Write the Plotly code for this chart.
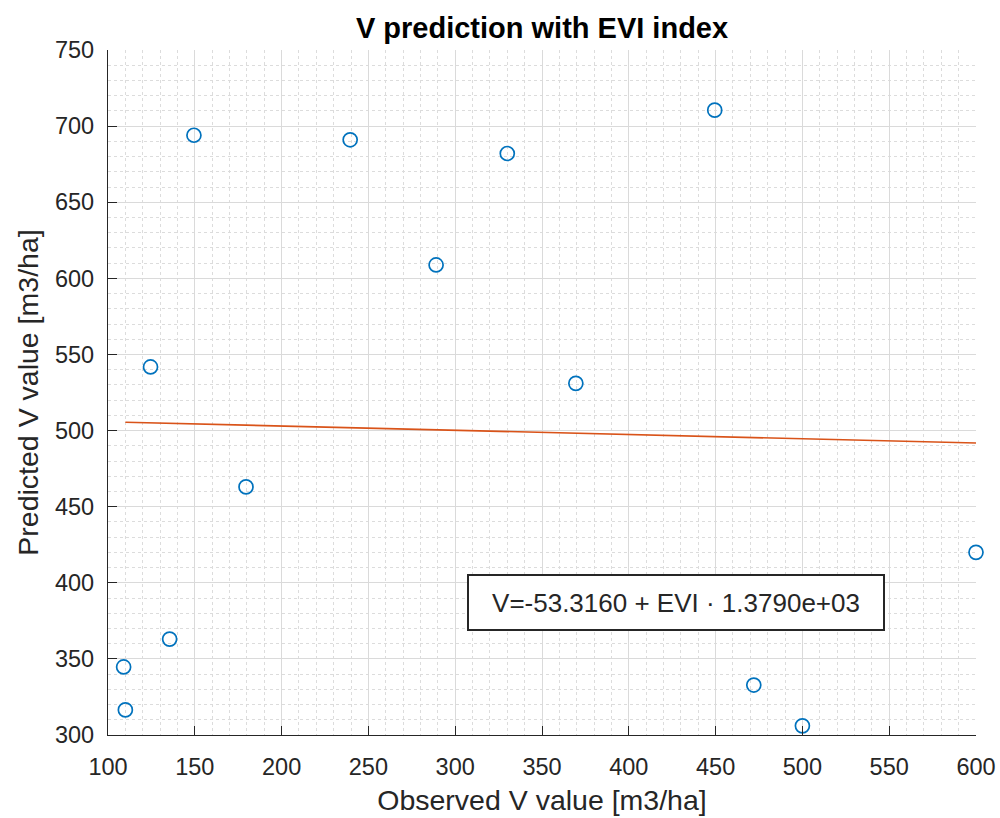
import plotly.graph_objects as go

observed = [109, 110, 135.5, 124.5, 149.5, 179.5, 239.5, 289, 330, 369.5, 449.5, 472, 500, 600]
predicted = [344.7, 316.5, 363, 541.8, 694, 463, 691, 608.8, 682, 531, 710.5, 332.8, 306, 420]
fit_x = [110, 600]
fit_y = [505.5, 491.8]
title = "V prediction with EVI index"
xlabel = "Observed V value [m3/ha]"
ylabel = "Predicted V value [m3/ha]"
eq_text = "V=-53.3160 + EVI \u00b7 1.3790e+03"
xticks = [100, 150, 200, 250, 300, 350, 400, 450, 500, 550, 600]
yticks = [300, 350, 400, 450, 500, 550, 600, 650, 700, 750]

axcol = "#262626"
fnt = "Liberation Sans, Arial, Helvetica, sans-serif"

fig = go.Figure()
fig.add_trace(go.Scatter(x=observed, y=predicted, mode="markers",
                         marker=dict(symbol="circle-open", size=14, color="#0072BD",
                                     line=dict(width=1.7, color="#0072BD")),
                         showlegend=False, cliponaxis=False))
fig.add_trace(go.Scatter(x=fit_x, y=fit_y, mode="lines",
                         line=dict(color="#D95319", width=1.6), showlegend=False))

common = dict(showline=True, linecolor=axcol, linewidth=1.2, mirror=False,
              ticks="inside", ticklen=9, tickcolor=axcol, tickwidth=1.2,
              showgrid=True, gridcolor="#DADADA", gridwidth=1, zeroline=False,
              automargin=False,
              tickfont=dict(family=fnt, size=23.5, color=axcol),
              minor=dict(dtick=10, showgrid=True, gridcolor="#DCDCDC", griddash="dot",
                         gridwidth=1, ticks=""))

fig.update_xaxes(range=[100, 600], tickvals=xticks, **common, ticklabelstandoff=11,
                 title=dict(text=xlabel, font=dict(family=fnt, size=28.5, color=axcol), standoff=10))
fig.update_yaxes(range=[300, 750], tickvals=yticks, **common, ticklabelstandoff=8,
                 title=dict(text=ylabel, font=dict(family=fnt, size=28.5, color=axcol), standoff=8))

fig.add_annotation(x=0.654, y=0.193, xref="paper", yref="paper", text=eq_text,
                   showarrow=False, font=dict(family=fnt, size=26, color=axcol),
                   bordercolor=axcol, borderwidth=2, borderpad=4, bgcolor="white",
                   xanchor="center", yanchor="middle", width=406, height=45)

fig.update_layout(width=1000, height=818, plot_bgcolor="white", paper_bgcolor="white",
                  margin=dict(l=108, r=24, t=50, b=83),
                  title=dict(text="<b>" + title + "</b>", x=0.542, xanchor="center",
                             y=0.966, yanchor="middle",
                             font=dict(family=fnt, size=29, color="black")))

fig.write_html("out.html")
